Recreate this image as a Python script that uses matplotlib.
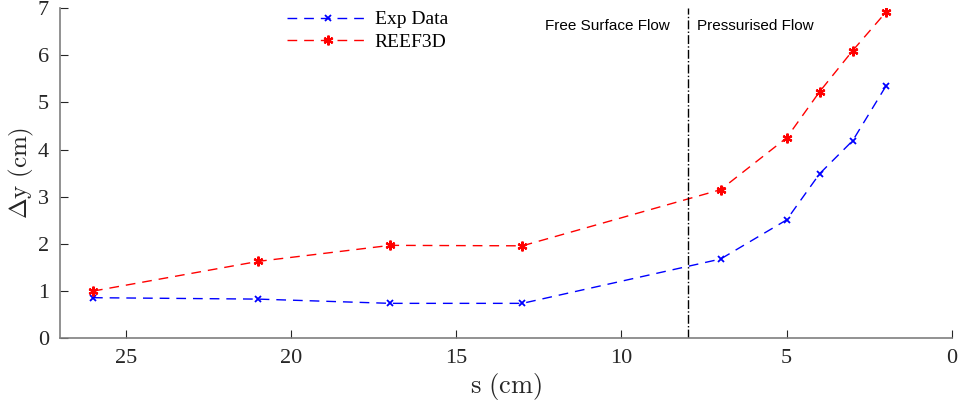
import matplotlib
matplotlib.use("Agg")
import matplotlib.pyplot as plt

# Distance upstream s (cm) and vertical displacement Δy (cm)
s_cm = [26, 21, 17, 13, 7, 5, 4, 3, 2]
exp_dy = [0.86, 0.83, 0.74, 0.74, 1.68, 2.51, 3.49, 4.19, 5.34]
reef_dy = [1.00, 1.63, 1.97, 1.96, 3.15, 4.25, 5.23, 6.10, 6.91]

x_ticks = [25, 20, 15, 10, 5, 0]
y_ticks = [0, 1, 2, 3, 4, 5, 6, 7]
transition_s = 8

plt.rcParams["mathtext.fontset"] = "cm"

serif = ["Liberation Serif", "DejaVu Serif"]
sans = ["Liberation Sans", "DejaVu Sans"]
axis_grey = "#262626"

fig = plt.figure(figsize=(9.61, 4.09), dpi=100)
ax = fig.add_axes([0.0624, 0.173, 0.928, 0.807])

ax.plot(s_cm, exp_dy, color="blue", linestyle=(0, (7, 5)), linewidth=1.0,
        marker="x", markersize=5, markeredgewidth=1.3, label="Exp Data")
ax.plot(s_cm, reef_dy, color="red", linestyle=(0, (7, 5)), linewidth=1.0,
        marker=(6, 2, 0), markersize=7, markeredgewidth=1.6, label="REEF3D")

ax.axvline(transition_s, color="black", linestyle="-.", linewidth=1.0)

ax.set_xlim(27, 0)
ax.set_ylim(0, 7)
ax.set_xticks(x_ticks)
ax.set_yticks(y_ticks)
ax.tick_params(direction="in", length=6, width=0.8, colors=axis_grey,
               labelsize=16, pad=8)
for lab in ax.get_xticklabels() + ax.get_yticklabels():
    lab.set_family(serif)
    lab.set_color(axis_grey)

for side in ("top", "right"):
    ax.spines[side].set_visible(False)
for side in ("left", "bottom"):
    ax.spines[side].set_color("#7f7f7f")
    ax.spines[side].set_linewidth(1.2)

ax.set_xlabel(r"$\mathrm{s\ (cm)}$", fontsize=19, color=axis_grey, labelpad=2)
ax.set_ylabel(r"$\Delta\mathrm{y\ (cm)}$", fontsize=18, color=axis_grey,
              labelpad=1)

ax.text(transition_s + 0.55, 6.62, "Free Surface Flow", family=sans,
        fontsize=11, ha="right", va="center", color="black")
ax.text(transition_s - 0.3, 6.62, "Pressurised Flow", family=sans,
        fontsize=11, ha="left", va="center", color="black")

leg = ax.legend(loc="upper left", bbox_to_anchor=(0.235, 1.045), frameon=False,
                numpoints=1, handlelength=4.2, handletextpad=0.3,
                labelspacing=0.25, prop={"family": serif, "size": 14})

fig.savefig("out.png", dpi=100)
